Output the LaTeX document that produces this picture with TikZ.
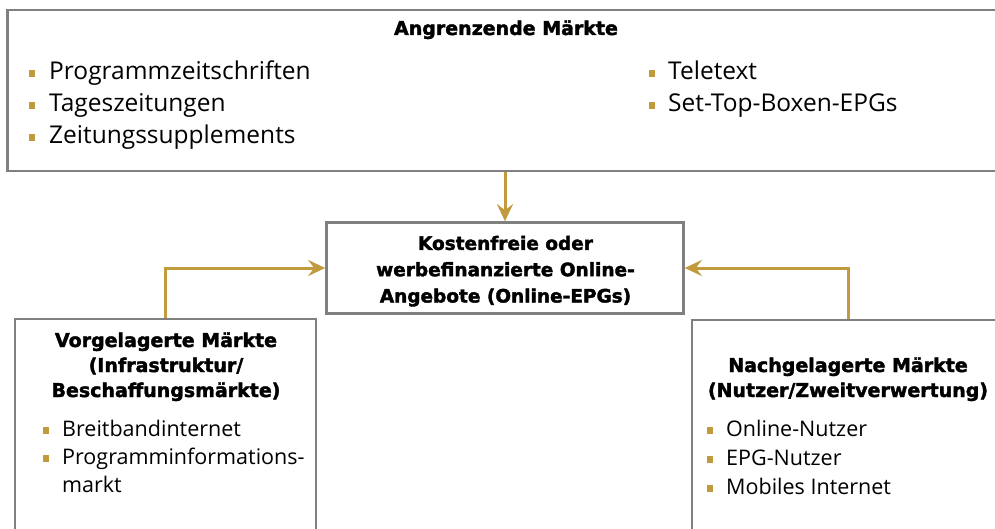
\documentclass[tikz,border=0pt]{standalone}
\usepackage{fontspec}
\setmainfont{Open Sans}
\newfontfamily\headfont{DejaVu Sans Bold}[FakeBold=2]
\usetikzlibrary{arrows.meta}
\definecolor{gold}{RGB}{192,154,60}
\definecolor{frame}{RGB}{128,128,128}
\tikzset{
  box/.style={draw=frame, line width=2.6pt, fill=white, inner sep=0pt},
  flow/.style={draw=gold, line width=3pt, -{Stealth[length=17pt,width=16pt,inset=6pt]}},
  head/.style={font=\headfont\fontsize{19}{25}\selectfont, align=center, inner sep=0pt, anchor=base},
  midhead/.style={font=\headfont\fontsize{18.5}{26.3}\selectfont, align=center, inner sep=0pt, anchor=base},
  bigitem/.style={font=\fontsize{24.5}{32}\selectfont, anchor=base west, inner sep=0pt},
  item/.style={font=\fontsize{21.5}{28}\selectfont, anchor=base west, inner sep=0pt},
  bul/.style={fill=gold, minimum size=6.5pt, inner sep=0pt, anchor=center},
}
\begin{document}
\begin{tikzpicture}[x=1pt, y=-1pt]
  \useasboundingbox (0,0) rectangle (995,529);
  \clip (0,0) rectangle (995,529);

  % frames
  \node[box, minimum width=997pt, minimum height=161pt] (top) at (506,90.5) {};
  \node[box, minimum width=357pt, minimum height=91pt] (mid) at (505,268) {};
  \node[box, minimum width=301pt, minimum height=240pt] (up) at (165.5,439) {};
  \node[box, minimum width=330pt, minimum height=240pt] (down) at (857,440) {};

  % adjacent markets
  \node[head] (tophead) at (506,35) {Angrenzende Märkte};
  \node[bul] (b1) at (32,73.5) {};
  \node[bigitem] (t1) at (49,80) {Programmzeitschriften};
  \node[bul] (b2) at (32,105.5) {};
  \node[bigitem] (t2) at (49,112) {Tageszeitungen};
  \node[bul] (b3) at (32,137.5) {};
  \node[bigitem] (t3) at (49,144) {Zeitungssupplements};
  \node[bul] (b4) at (652,73.5) {};
  \node[bigitem] (t4) at (668,80) {Teletext};
  \node[bul] (b5) at (652,105.5) {};
  \node[bigitem] (t5) at (668,112) {Set-Top-Boxen-EPGs};

  % central offer
  \node[midhead] (midtext) at (505.5,302.5) {Kostenfreie oder\\werbefinanzierte Online-\\Angebote (Online-EPGs)};

  % upstream markets
  \node[head] (uphead) at (166,397) {Vorgelagerte Märkte\\(Infrastruktur/\\Beschaffungsmärkte)};
  \node[bul] (b6) at (46,430.5) {};
  \node[item] (u1) at (62,436) {Breitbandinternet};
  \node[bul] (b7) at (46,458.5) {};
  \node[item] (u2) at (62,464) {Programminformations-};
  \node[item] (u3) at (62,492) {markt};

  % downstream markets
  \node[head] (downhead) at (848,397) {Nachgelagerte Märkte\\(Nutzer/Zweitverwertung)};
  \node[bul] (b8) at (710,430.5) {};
  \node[item] (d1) at (726,436) {Online-Nutzer};
  \node[bul] (b9) at (710,459.5) {};
  \node[item] (d2) at (726,465) {EPG-Nutzer};
  \node[bul] (b10) at (710,488.5) {};
  \node[item] (d3) at (726,494) {Mobiles Internet};

  % connectors
  \coordinate (rx) at (848,318.7);
  \draw[flow] (mid.north |- top.south) -- (mid.north);
  \draw[flow] (up.north) |- (mid.west);
  \draw[flow] (rx) |- (mid.east);
\end{tikzpicture}
\end{document}
